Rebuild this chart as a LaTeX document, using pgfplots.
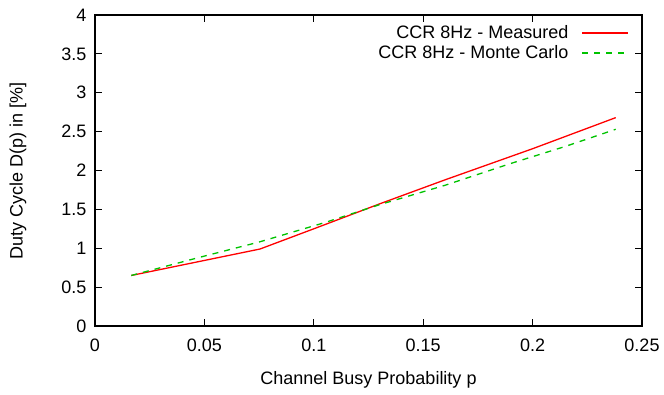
\documentclass[border=0pt]{standalone}
\usepackage{pgfplots}
\pgfplotsset{compat=1.18}
\usepackage{fontspec}
\setmainfont{Liberation Sans}
\definecolor{gpgreen}{RGB}{0,195,0}
\definecolor{gpred}{RGB}{255,0,0}
\begin{document}
\begin{tikzpicture}
\useasboundingbox (-95pt,-69pt) rectangle (569pt,326pt);
\begin{axis}[
  at={(0pt,0pt)}, anchor=south west,
  scale only axis, width=547pt, height=311pt,
  xmin=0, xmax=0.25, ymin=0, ymax=4,
  xtick={0,0.05,0.1,0.15,0.2,0.25},
  ytick={0,0.5,1,1.5,2,2.5,3,3.5,4},
  scaled x ticks=false,
  xticklabels={0,0.05,0.1,0.15,0.2,0.25},
  yticklabels={0,0.5,1,1.5,2,2.5,3,3.5,4},
  tick align=inside, major tick length=7pt,
  tick style={black, line width=1pt},
  axis line style={black, line width=1.2pt},
  font=\fontsize{18}{21}\selectfont,
  xticklabel style={yshift=-9pt},
  yticklabel style={xshift=-5pt},
  xlabel={Channel Busy Probability p},
  ylabel={Duty Cycle D(p) in [\%]},
  xlabel style={at={(axis description cs:0.5,-0.1736)}, anchor=center},
  ylabel style={at={(axis description cs:-0.1408,0.5)}, anchor=center, rotate=0},
  legend style={draw=none, fill=none, at={(axis description cs:1,1)}, anchor=north east,
    xshift=-10pt, yshift=-6.5pt, row sep=1.5pt, font=\fontsize{18}{21}\selectfont},
  legend cell align=right,
  legend plot pos=right,
  legend image code/.code={\path (0pt,0pt); \draw[#1] (11pt,0pt) -- (57pt,0pt);},
]
\addplot[color=gpred, line width=1.3pt] coordinates {
(0.0166,0.65) (0.0754,0.99) (0.1,1.25) (0.13,1.57) (0.16,1.88) (0.2,2.28) (0.238,2.68)
};
\addlegendentry{CCR 8Hz - Measured}
\addplot[color=gpgreen, line width=1.3pt, dash pattern=on 6pt off 6pt] coordinates {
(0.0166,0.65) (0.046,0.87) (0.075,1.08) (0.105,1.33) (0.13,1.56) (0.16,1.81) (0.19,2.09) (0.215,2.31) (0.238,2.53)
};
\addlegendentry{CCR 8Hz - Monte Carlo}
\end{axis}
\end{tikzpicture}
\end{document}
